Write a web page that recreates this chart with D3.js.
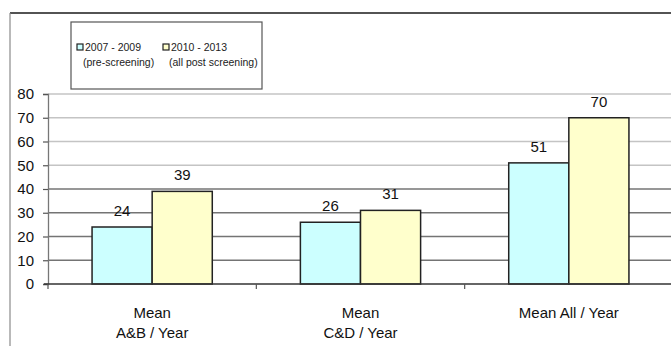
<!DOCTYPE html>
<html>
<head>
<meta charset="utf-8">
<script src="https://cdn.jsdelivr.net/npm/d3@7/dist/d3.min.js"></script>
<style>
  html, body { margin: 0; padding: 0; background: #fff; }
  svg { display: block; font-family: "Liberation Sans", Arial, sans-serif; }
</style>
</head>
<body>
<svg id="chart" width="671" height="346"></svg>
<script>
// Chart data
const categories = [["Mean", "A&B / Year"], ["Mean", "C&D / Year"], ["Mean All / Year"]];
const seriesNames = [["2007 - 2009", "(pre-screening)"], ["2010 - 2013", "(all post screening)"]];
const prescreening = [24, 26, 51];
const postscreening = [39, 31, 70];
const yTicks = [0, 10, 20, 30, 40, 50, 60, 70, 80];

const seriesValues = [prescreening, postscreening];
const fills = ["#ccffff", "#ffffcc"];

const svg = d3.select("#chart");
const W = 671, H = 346;

// Outer frame (top and left edges visible)
svg.append("line").attr("x1", 10).attr("x2", W).attr("y1", 13).attr("y2", 13)
  .attr("stroke", "#1a1a1a").attr("stroke-width", 1.5);
svg.append("line").attr("x1", 10).attr("x2", 10).attr("y1", 13).attr("y2", H)
  .attr("stroke", "#8a8a8a").attr("stroke-width", 1.2);

const plot = { left: 48, right: 673, top: 94, bottom: 284 };

const catKeys = categories.map((c, i) => i);
const x0 = d3.scaleBand().domain(catKeys).range([plot.left, plot.right]).padding(0);
const x1 = d3.scaleBand().domain([0, 1]).range([0, x0.bandwidth()])
  .paddingInner(0).paddingOuter(0.733);
const y = d3.scaleLinear().domain([0, 80]).range([plot.bottom, plot.top]);

// Gridlines
svg.append("g").selectAll("line").data(yTicks.filter(t => t > 0)).join("line")
  .attr("x1", plot.left).attr("x2", W)
  .attr("y1", d => y(d)).attr("y2", d => y(d))
  .attr("stroke", d => d >= 50 ? "#c4c4c4" : "#747474")
  .attr("stroke-width", 1.3);

// Y axis
const yAxis = svg.append("g").attr("transform", `translate(${plot.left},0)`)
  .call(d3.axisLeft(y).tickValues(yTicks).tickSize(5).tickPadding(9));
yAxis.select(".domain").attr("stroke", "#777").attr("stroke-width", 1.3);
yAxis.selectAll(".tick line").attr("stroke", "#555").attr("stroke-width", 1.2);
yAxis.selectAll(".tick text").attr("font-size", 15).attr("fill", "#111")
  .attr("font-family", "'Liberation Sans', Arial, sans-serif");

// Bars
const groups = svg.append("g").selectAll("g").data(catKeys).join("g")
  .attr("transform", d => `translate(${x0(d)},0)`);

groups.selectAll("rect")
  .data(ci => seriesValues.map((vals, si) => ({ si, v: vals[ci] })))
  .join("rect")
  .attr("x", d => x1(d.si))
  .attr("width", x1.bandwidth())
  .attr("y", d => y(d.v))
  .attr("height", d => y(0) - y(d.v))
  .attr("fill", d => fills[d.si])
  .attr("stroke", "#222")
  .attr("stroke-width", 1.5);

// Value labels
groups.selectAll("text.val")
  .data(ci => seriesValues.map((vals, si) => ({ si, v: vals[ci] })))
  .join("text").attr("class", "val")
  .attr("x", d => x1(d.si) + x1.bandwidth() / 2)
  .attr("y", d => y(d.v) - 11)
  .attr("text-anchor", "middle")
  .attr("font-size", 15).attr("fill", "#111")
  .text(d => d.v);

// X axis line and category boundary ticks
svg.append("line").attr("x1", 44).attr("x2", W)
  .attr("y1", y(0)).attr("y2", y(0))
  .attr("stroke", "#333").attr("stroke-width", 1.5);
svg.append("g").selectAll("line").data(catKeys).join("line")
  .attr("x1", d => x0(d)).attr("x2", d => x0(d))
  .attr("y1", y(0)).attr("y2", y(0) + 5)
  .attr("stroke", "#555").attr("stroke-width", 1.2);

// Category labels
groups.append("text")
  .attr("x", x0.bandwidth() / 2)
  .attr("y", 318)
  .attr("text-anchor", "middle")
  .attr("font-size", 15).attr("fill", "#111")
  .selectAll("tspan").data(ci => categories[ci]).join("tspan")
  .attr("x", x0.bandwidth() / 2)
  .attr("dy", (d, i) => i === 0 ? 0 : 20)
  .text(d => d);

// Legend
const legend = svg.append("g");
legend.append("rect").attr("x", 71).attr("y", 22).attr("width", 191).attr("height", 67)
  .attr("fill", "#fff").attr("stroke", "#555").attr("stroke-width", 1.2);
const legendX = [77, 163];
seriesNames.forEach((lines, i) => {
  legend.append("rect").attr("x", legendX[i]).attr("y", 44).attr("width", 6).attr("height", 6)
    .attr("fill", fills[i]).attr("stroke", "#222").attr("stroke-width", 1.2);
  legend.append("text").attr("x", legendX[i] + 8).attr("y", 51)
    .attr("font-size", 10.5).attr("fill", "#222").text(lines[0]);
  legend.append("text").attr("x", legendX[i] + 6).attr("y", 66)
    .attr("font-size", 10.5).attr("fill", "#222").text(lines[1]);
});
</script>
</body>
</html>
